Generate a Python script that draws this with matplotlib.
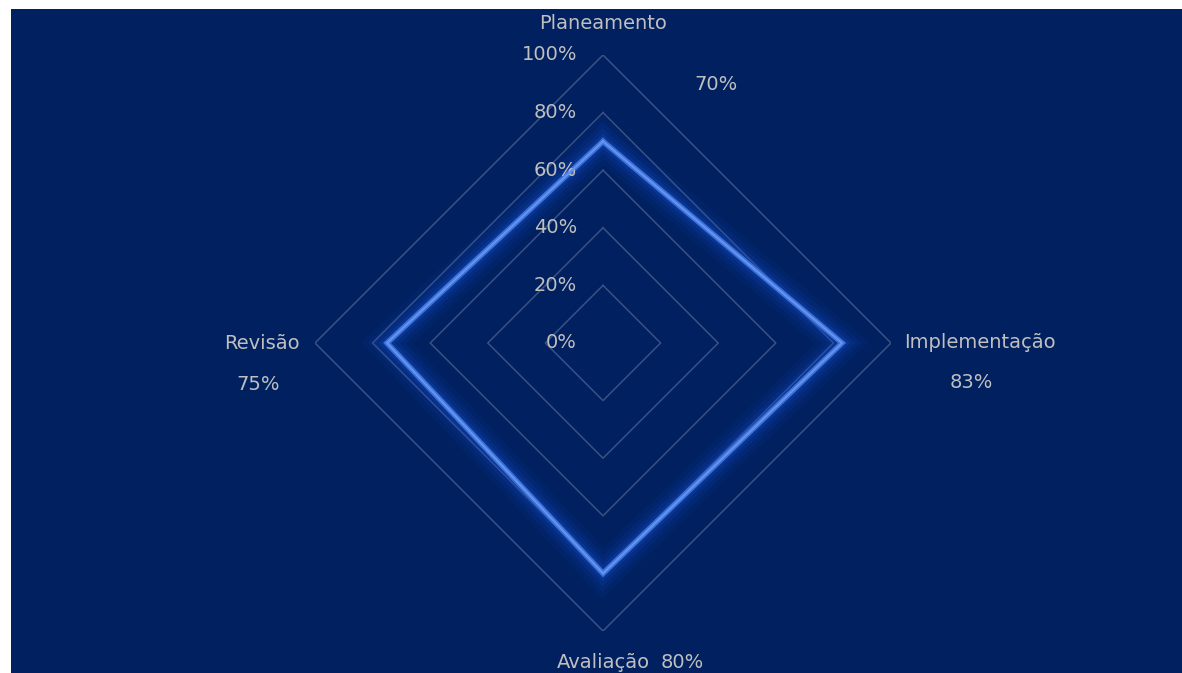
import numpy as np
import matplotlib
matplotlib.use("Agg")
from matplotlib import pyplot as plt
from matplotlib.patches import Rectangle

categories = ["Planeamento", "Implementação", "Avaliação", "Revisão"]
values = [0.70, 0.83, 0.80, 0.75]
value_labels = ["70%", "83%", "80%", "75%"]
ring_levels = [0.0, 0.2, 0.4, 0.6, 0.8, 1.0]
ring_labels = ["0%", "20%", "40%", "60%", "80%", "100%"]

navy = "#002060"
txt = "#BFBFBF"
grid_c = "#3B5183"
fs = 14

W, H = 1182, 673
fig = plt.figure(figsize=(W / 100, H / 100), dpi=100, facecolor="white")
fig.patches.append(Rectangle((11 / W, 0), 1 - 11 / W, (H - 9) / H,
                             transform=fig.transFigure, facecolor=navy,
                             edgecolor="none", zorder=-10))

# polar axes centred at (603, 343) px, radius 288 px
cx, cy, rad = 603, 343, 288
ax = fig.add_axes([(cx - rad) / W, (H - cy - rad) / H, 2 * rad / W, 2 * rad / H],
                  projection="polar")
ax.set_theta_zero_location("N")
ax.set_theta_direction(-1)
ax.set_ylim(0, 1)
ax.patch.set_alpha(0)
ax.grid(False)
ax.spines["polar"].set_visible(False)
ax.set_xticks([])
ax.set_yticks([])

n = len(categories)
theta = np.arange(n) * 2 * np.pi / n
theta_c = np.append(theta, theta[0])

# diamond grid
for lv in ring_levels[1:]:
    ax.plot(theta_c, [lv] * (n + 1), color=grid_c, lw=1.1, zorder=1)

# series with glow
vals_c = np.append(values, values[0])
for lw, a in [(26, 0.07), (19, 0.1), (13, 0.14), (8, 0.22)]:
    ax.plot(theta_c, vals_c, color="#1552D2", lw=lw, alpha=a, zorder=2,
            solid_joinstyle="miter")
ax.plot(theta_c, vals_c, color="#3C70DC", lw=4, zorder=3, solid_joinstyle="miter")
ax.plot(theta_c, vals_c, color="#6494EA", lw=1.6, zorder=4, solid_joinstyle="miter")

# radial tick labels
for lv, lab in zip(ring_levels, ring_labels):
    ax.annotate(lab, xy=(0, lv), xytext=(-26, 0), textcoords="offset pixels",
                ha="right", va="center", color=txt, fontsize=fs,
                annotation_clip=False)

# category labels
ax.text(0, 1.108, categories[0], ha="center", va="center", color=txt, fontsize=fs)
ax.text(np.pi / 2, 1.045, categories[1], ha="left", va="center", color=txt, fontsize=fs)
ax.text(np.pi, 1.108, categories[2], ha="center", va="center", color=txt, fontsize=fs)
ax.text(3 * np.pi / 2, 1.052, categories[3], ha="right", va="center", color=txt, fontsize=fs)

# value labels
offsets = [(113, 57), (129, -39), (79, -89), (-129, -41)]
for t, v, lab, off in zip(theta, values, value_labels, offsets):
    ax.annotate(lab, xy=(t, v), xytext=off, textcoords="offset pixels",
                ha="center", va="center", color=txt, fontsize=fs,
                annotation_clip=False)

fig.savefig("out.png", dpi=100, facecolor=fig.get_facecolor())
